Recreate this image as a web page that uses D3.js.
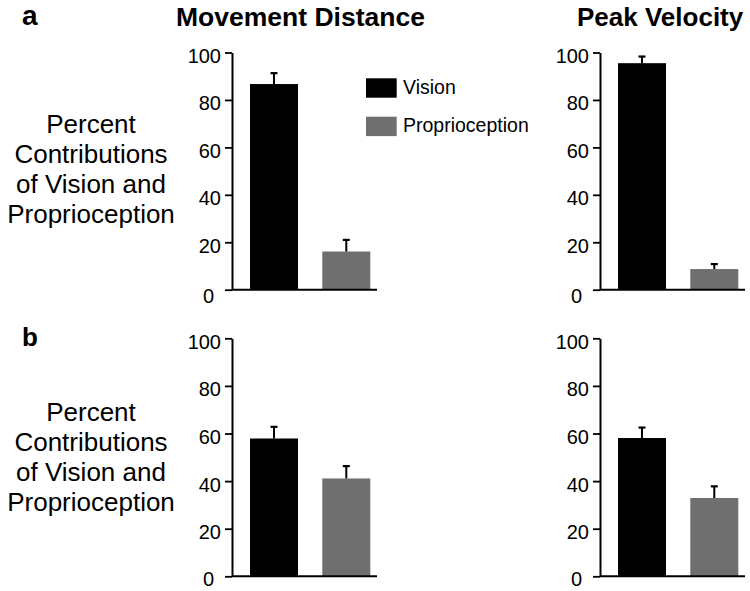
<!DOCTYPE html>
<html>
<head>
<meta charset="utf-8">
<script src="https://cdn.jsdelivr.net/npm/d3@7/dist/d3.min.js"></script>
<style>
  html, body { margin: 0; padding: 0; background: #fff; }
  svg { display: block; font-family: "Liberation Sans", Arial, sans-serif; }
</style>
</head>
<body>
<svg id="chart" width="750" height="591"></svg>
<script>
// ---- data ----
const categories = ["Vision", "Proprioception"];
const yTicks = [0, 20, 40, 60, 80, 100];
const colTitles = ["Movement Distance", "Peak Velocity"];
const rowLabels = ["a", "b"];
const yLabelLines = ["Percent", "Contributions", "of Vision and", "Proprioception"];

// means and (upper) standard errors, per panel
const distanceA = [86.7, 16.1];
const distanceAErr = [4.6, 4.9];
const velocityA = [95.5, 8.7];
const velocityAErr = [2.8, 2.1];
const distanceB = [57.9, 41.1];
const distanceBErr = [4.9, 5.2];
const velocityB = [58.1, 32.9];
const velocityBErr = [4.4, 4.9];

const colors = ["#000000", "#6f6f6f"];

const panels = [
  { row: 0, col: 0, values: distanceA, errs: distanceAErr },
  { row: 0, col: 1, values: velocityA, errs: velocityAErr },
  { row: 1, col: 0, values: distanceB, errs: distanceBErr },
  { row: 1, col: 1, values: velocityB, errs: velocityBErr }
];

const svg = d3.select("#chart");
const axisX = [232, 600];
const rowY = [{ y0: 289.7, y100: 52.5 }, { y0: 576.3, y100: 338.3 }];

panels.forEach(p => {
  const ax = axisX[p.col];
  const ry = rowY[p.row];
  const y = d3.scaleLinear().domain([0, 100]).range([ry.y0, ry.y100]);
  const x = d3.scaleBand().domain(categories)
    .range([ax + 18, ax + 18 + 120.3]).paddingInner(0.336).paddingOuter(0);

  const g = svg.append("g");

  // bars
  g.selectAll("rect.bar").data(categories).join("rect")
    .attr("class", "bar")
    .attr("x", d => x(d))
    .attr("width", x.bandwidth())
    .attr("y", (d, i) => y(p.values[i]))
    .attr("height", (d, i) => y(0) - y(p.values[i]))
    .attr("fill", (d, i) => colors[i]);

  // error bars (upward only)
  const eb = g.selectAll("g.err").data(categories).join("g").attr("class", "err");
  eb.append("line")
    .attr("x1", d => x(d) + x.bandwidth() / 2)
    .attr("x2", d => x(d) + x.bandwidth() / 2)
    .attr("y1", (d, i) => y(p.values[i]))
    .attr("y2", (d, i) => y(p.values[i] + p.errs[i]))
    .attr("stroke", "#000").attr("stroke-width", 2);
  eb.append("line")
    .attr("x1", d => x(d) + x.bandwidth() / 2 - 3.5)
    .attr("x2", d => x(d) + x.bandwidth() / 2 + 3.5)
    .attr("y1", (d, i) => y(p.values[i] + p.errs[i]))
    .attr("y2", (d, i) => y(p.values[i] + p.errs[i]))
    .attr("stroke", "#000").attr("stroke-width", 2.2);

  // x axis baseline
  g.append("line")
    .attr("x1", ax).attr("x2", ax + 145)
    .attr("y1", y(0)).attr("y2", y(0))
    .attr("stroke", "#000").attr("stroke-width", 2);

  // y axis
  const yAxis = g.append("g")
    .attr("transform", `translate(${ax},0)`)
    .call(d3.axisLeft(y).tickValues(yTicks).tickSize(7).tickSizeOuter(0).tickPadding(4));
  yAxis.select(".domain").attr("stroke", "#000").attr("stroke-width", 2);
  yAxis.selectAll(".tick line").attr("stroke", "#000").attr("stroke-width", 1.8);
  yAxis.selectAll(".tick text")
    .attr("font-size", 20)
    .attr("fill", "#000")
    .attr("font-family", "'Liberation Sans', Arial, sans-serif")
    .attr("dy", "0.5em")
    .each(function(d) {
      if (d === 0) d3.select(this).attr("x", -18).attr("dy", p.row === 0 ? "0.62em" : "0.48em");
    });
});

// column titles
svg.append("text").attr("x", 176).attr("y", 26)
  .attr("font-size", 26.5).attr("font-weight", "bold").text(colTitles[0]);
svg.append("text").attr("x", 577).attr("y", 26)
  .attr("font-size", 26).attr("font-weight", "bold").text(colTitles[1]);

// row letters
svg.append("text").attr("x", 22).attr("y", 25)
  .attr("font-size", 28).attr("font-weight", "bold").text(rowLabels[0]);
svg.append("text").attr("x", 22).attr("y", 346)
  .attr("font-size", 26).attr("font-weight", "bold").text(rowLabels[1]);

// y labels
[133, 421].forEach(base => {
  const t = svg.append("text").attr("text-anchor", "middle").attr("font-size", 26);
  yLabelLines.forEach((line, i) => {
    t.append("tspan").attr("x", 91).attr("y", base + i * 30).text(line);
  });
});

// legend
const legend = svg.append("g");
categories.forEach((c, i) => {
  legend.append("rect")
    .attr("x", 366).attr("y", 78.3 + i * 38.4)
    .attr("width", 30.7).attr("height", 19.4)
    .attr("fill", colors[i]);
  legend.append("text")
    .attr("x", 403).attr("y", 94 + i * 38.4)
    .attr("font-size", 19.5).text(c);
});
</script>
</body>
</html>
